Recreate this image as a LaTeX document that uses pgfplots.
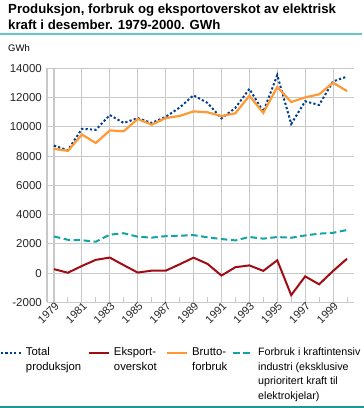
\documentclass[border=0pt]{standalone}
\usepackage{fontspec}
\setmainfont{Liberation Sans}
\usepackage{pgfplots}
\usepackage{pgfplotstable}
\pgfplotsset{compat=1.18}
\definecolor{cblue}{RGB}{0,61,145}
\definecolor{cred}{RGB}{160,12,20}
\definecolor{corange}{RGB}{255,153,51}
\definecolor{cteal}{RGB}{20,163,163}
\definecolor{gridgray}{RGB}{200,200,200}
\definecolor{ruletop}{RGB}{100,200,200}
\definecolor{rulebot}{RGB}{30,150,150}

\pgfplotstableread{
year total brutto eksport industri
1979 8720 8500 270 2510
1980 8400 8360 30 2280
1981 9870 9480 490 2250
1982 9800 8900 910 2150
1983 10810 9760 1065 2630
1984 10270 9700 545 2730
1985 10600 10540 40 2490
1986 10270 10150 170 2430
1987 10680 10600 165 2530
1988 11320 10750 600 2560
1989 12160 11060 1060 2600
1990 11640 11000 635 2450
1991 10580 10740 -165 2330
1992 11300 10930 405 2240
1993 12600 12130 530 2470
1994 11040 10960 155 2360
1995 13540 12730 880 2470
1996 10200 11700 -1505 2420
1997 11750 12020 -220 2580
1998 11500 12230 -765 2700
1999 13110 13020 150 2760
2000 13440 12450 985 2950
}\datatable

\begin{document}
\begin{tikzpicture}[x=1bp,y=1bp]
\path[use as bounding box] (0,0) rectangle (364,408);
\node[anchor=base west,inner sep=0,font=\bfseries\fontsize{13.2bp}{15bp}\selectfont] at (8,394) {Produksjon, forbruk og eksportoverskot av elektrisk};
\node[anchor=base west,inner sep=0,font=\bfseries\fontsize{13.2bp}{15bp}\selectfont] at (8,378.7) {kraft i desember. 1979-2000. GWh};
\draw[ruletop,line width=2bp] (0,374.3) -- (362,374.3);
\node[anchor=base west,inner sep=0,font=\fontsize{9.5bp}{11bp}\selectfont] at (8,356.5) {GWh};
\draw[rulebot,line width=1.3bp] (0,1) -- (364,1);
\begin{axis}[
  at={(47bp,105.6bp)}, anchor=south west,
  scale only axis, width=307bp, height=234bp,
  xmin=1978.5, xmax=2000.5, ymin=-2000, ymax=14000,
  scaled y ticks=false, scaled x ticks=false,
  axis x line=bottom, axis y line=left,
  axis line style={-, draw=gridgray, line width=1.5bp},
  xtick={1979,1981,...,1999},
  minor xtick={1980,1982,...,2000},
  ytick={-2000,0,...,14000},
  grid=major,
  grid style={draw=gridgray, line width=1.1bp},
  tick align=inside,
  xtick style={draw=gridgray, line width=1bp},
  major tick length=5bp, minor tick length=5bp,
  ytick style={draw=none},
  /pgf/number format/1000 sep={},
  /pgf/number format/assume math mode=true,
  tick label style={font=\fontsize{11.5bp}{13bp}\selectfont, text=black!85},
  yticklabel style={anchor=east, inner sep=0, xshift=-5bp},
  xticklabel style={rotate=45, anchor=east, inner sep=0, yshift=-3.5bp, xshift=1bp, font=\fontsize{11bp}{12bp}\selectfont},
  legend columns=4,
  legend image code/.code={\draw[#1] (0bp,3bp) -- (20bp,3bp);},
  legend style={at={(-0.1531,-0.193)}, anchor=north west, draw=none, fill=none,
    inner sep=0pt, outer sep=0pt,
    font=\fontsize{11.3bp}{14.5bp}\selectfont,
    nodes={inner sep=0pt, text depth=0pt},
    cells={anchor=base west},
    /tikz/every odd column/.append style={column sep=4bp},
    /tikz/every even column/.append style={column sep=0bp}},
]
\addplot[cblue, line width=2bp, dash pattern=on 2.2bp off 2.2bp] table[x=year,y=total] {\datatable};
\addlegendentry{\parbox[t]{62bp}{Total\\produksjon}}
\addplot[cred, line width=2bp] table[x=year,y=eksport] {\datatable};
\addlegendentry{\parbox[t]{52bp}{Eksport-\\overskot}}
\addplot[corange, line width=2.2bp] table[x=year,y=brutto] {\datatable};
\addlegendentry{\parbox[t]{40bp}{Brutto-\\forbruk}}
\addplot[cteal, line width=2bp, dash pattern=on 6.5bp off 3.5bp] table[x=year,y=industri] {\datatable};
\addlegendentry{\parbox[t]{110bp}{\fontsize{10.7bp}{14.5bp}\selectfont Forbruk i kraftintensiv\\industri (eksklusive\\uprioritert kraft til\\elektrokjelar)}}
\end{axis}
\end{tikzpicture}
\end{document}
